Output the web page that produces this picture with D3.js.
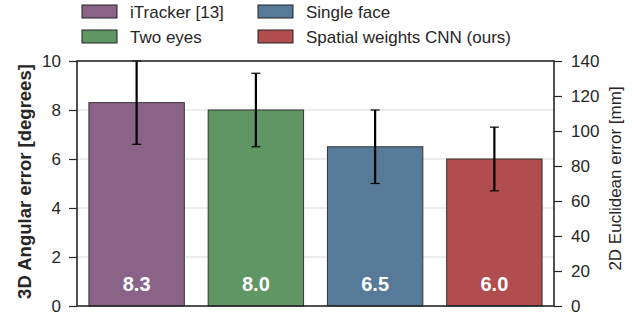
<!DOCTYPE html>
<html>
<head>
<meta charset="utf-8">
<script src="https://cdn.jsdelivr.net/npm/d3@7"></script>
<style>
  body { margin: 0; background: #fff; }
  svg { font-family: "Liberation Sans", Arial, sans-serif; }
</style>
</head>
<body>
<svg id="chart" width="634" height="313"></svg>
<script>
// data
var methods = ["iTracker [13]", "Two eyes", "Single face", "Spatial weights CNN (ours)"];
var angErr = [8.3, 8.0, 6.5, 6.0];
var angStd = [1.7, 1.5, 1.5, 1.3];
var colors = ["#8a6389", "#609564", "#577a98", "#b04d4e"];
var leftTicks = [0, 2, 4, 6, 8, 10];
var rightTicks = [0, 20, 40, 60, 80, 100, 120, 140];

var svg = d3.select("#chart");
var margin = {left: 77, right: 80, top: 61, bottom: 7},
    width = 634 - margin.left - margin.right,
    height = 313 - margin.top - margin.bottom;

var g = svg.append("g").attr("transform", "translate(" + margin.left + "," + margin.top + ")");

var x = d3.scaleBand().domain(methods).range([0, width]).paddingInner(0.2).paddingOuter(0.1);
var y = d3.scaleLinear().domain([0, 10]).range([height, 0]);
var y2 = d3.scaleLinear().domain([0, 140]).range([height, 0]);

// grid
g.selectAll(".grid").data(leftTicks.slice(1, -1)).enter().append("line")
    .attr("x1", 0).attr("x2", width)
    .attr("y1", d => y(d)).attr("y2", d => y(d))
    .attr("stroke", "#d9d9d9").attr("stroke-width", 1);

// bars
g.selectAll(".bar").data(methods).enter().append("rect")
    .attr("x", d => x(d))
    .attr("y", (d, i) => y(angErr[i]))
    .attr("width", x.bandwidth())
    .attr("height", (d, i) => height - y(angErr[i]))
    .attr("fill", (d, i) => colors[i])
    .attr("stroke", "#333").attr("stroke-width", 1);

// error bars
var eb = g.selectAll(".err").data(methods).enter().append("g")
    .attr("stroke", "#000");
eb.append("line")
    .attr("x1", d => x(d) + x.bandwidth() / 2).attr("x2", d => x(d) + x.bandwidth() / 2)
    .attr("y1", (d, i) => y(angErr[i] + angStd[i])).attr("y2", (d, i) => y(angErr[i] - angStd[i]))
    .attr("stroke-width", 2.2);
[1, -1].forEach(function (s) {
    eb.append("line")
        .attr("x1", d => x(d) + x.bandwidth() / 2 - 4.5).attr("x2", d => x(d) + x.bandwidth() / 2 + 4.5)
        .attr("y1", (d, i) => y(angErr[i] + s * angStd[i])).attr("y2", (d, i) => y(angErr[i] + s * angStd[i]))
        .attr("stroke-width", 1.2);
});

// value labels
g.selectAll(".val").data(methods).enter().append("text")
    .attr("x", d => x(d) + x.bandwidth() / 2)
    .attr("y", height - 15)
    .attr("text-anchor", "middle")
    .attr("fill", "#fff").attr("font-weight", "bold").attr("font-size", "20px")
    .text((d, i) => angErr[i].toFixed(1));

// axes
var yAxis = g.append("g").call(d3.axisLeft(y).tickValues(leftTicks).tickSize(8).tickPadding(8));
var yAxis2 = g.append("g").attr("transform", "translate(" + width + ",0)")
    .call(d3.axisRight(y2).tickValues(rightTicks).tickSize(8).tickPadding(9));
[yAxis, yAxis2].forEach(function (a) {
    a.select(".domain").remove();
    a.selectAll(".tick line").attr("stroke", "#262626").attr("stroke-width", 1.2);
    a.selectAll(".tick text").attr("fill", "#262626").attr("font-size", "17px")
        .attr("font-family", "Liberation Sans, Arial, sans-serif");
});

// frame
g.append("rect").attr("width", width).attr("height", height)
    .attr("fill", "none").attr("stroke", "#262626").attr("stroke-width", 1.6);

// axis titles
svg.append("text")
    .attr("transform", "translate(31," + (margin.top + height / 2 - 2) + ") rotate(-90)")
    .attr("text-anchor", "middle").attr("font-weight", "bold").attr("font-size", "18.5px")
    .attr("fill", "#262626")
    .text("3D Angular error [degrees]");
svg.append("text")
    .attr("transform", "translate(621," + (margin.top + height / 2 - 5) + ") rotate(-90)")
    .attr("text-anchor", "middle").attr("font-size", "17px")
    .attr("fill", "#262626")
    .text("2D Euclidean error [mm]");

// legend
var legPos = [[82, 5], [82, 30], [258, 5], [258, 30]];
var leg = svg.selectAll(".leg").data(methods).enter().append("g")
    .attr("transform", (d, i) => "translate(" + legPos[i][0] + "," + legPos[i][1] + ")");
leg.append("rect").attr("width", 35).attr("height", 13)
    .attr("fill", (d, i) => colors[i]).attr("stroke", "#222").attr("stroke-width", 1);
leg.append("text").attr("x", 48).attr("y", 13)
    .attr("font-size", "17px").attr("fill", "#262626")
    .text(d => d);
</script>
</body>
</html>
